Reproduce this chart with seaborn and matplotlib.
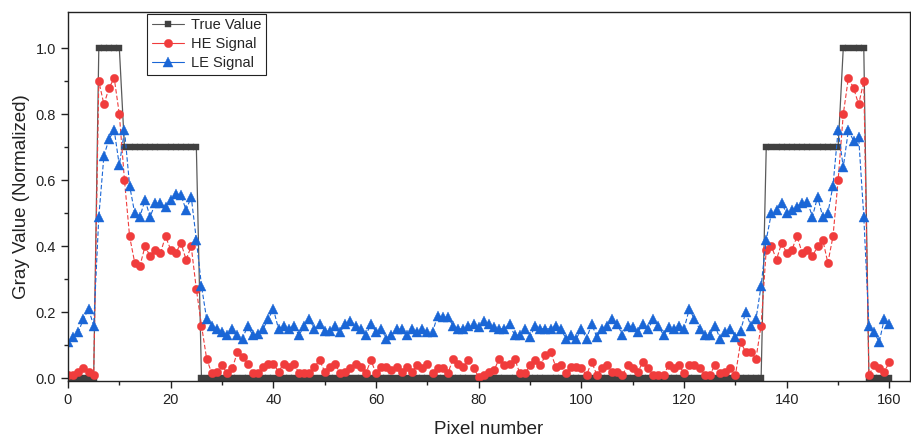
import numpy as np
import matplotlib
matplotlib.use("Agg")
import matplotlib.pyplot as plt
import seaborn as sns
import pandas as pd

# pixel index along the profile
pixel = list(range(0, 161))

# true value profile: levels and how many pixels each level lasts
true_levels = [0.0, 1.0, 0.7, 0.0, 0.7, 1.0, 0.0]
true_counts = [6, 5, 15, 110, 15, 5, 5]

he_signal = [
    0.01, 0.01, 0.02, 0.03, 0.02, 0.01, 0.90, 0.83, 0.88, 0.91,
    0.80, 0.60, 0.43, 0.35, 0.34, 0.40, 0.37, 0.39, 0.38, 0.43,
    0.39, 0.38, 0.41, 0.36, 0.40, 0.27, 0.16, 0.06, 0.015, 0.02,
    0.04, 0.015, 0.03, 0.08, 0.065, 0.045, 0.015, 0.015, 0.035, 0.045,
    0.045, 0.02, 0.045, 0.035, 0.045, 0.015, 0.015, 0.015, 0.035, 0.055,
    0.02, 0.035, 0.045, 0.015, 0.02, 0.03, 0.045, 0.035, 0.015, 0.055,
    0.015, 0.035, 0.035, 0.025, 0.035, 0.02, 0.035, 0.02, 0.04, 0.03,
    0.045, 0.015, 0.03, 0.03, 0.015, 0.06, 0.045, 0.035, 0.055, 0.03,
    0.005, 0.01, 0.02, 0.025, 0.06, 0.04, 0.045, 0.06, 0.015, 0.015,
    0.04, 0.055, 0.04, 0.07, 0.08, 0.035, 0.04, 0.015, 0.035, 0.035,
    0.03, 0.01, 0.05, 0.01, 0.03, 0.04, 0.02, 0.02, 0.01, 0.04,
    0.03, 0.02, 0.05, 0.03, 0.01, 0.01, 0.01, 0.04, 0.03, 0.04,
    0.015, 0.04, 0.04, 0.03, 0.01, 0.01, 0.04, 0.015, 0.02, 0.03,
    0.01, 0.11, 0.08, 0.08, 0.06, 0.16, 0.39, 0.40, 0.36, 0.41,
    0.38, 0.39, 0.43, 0.38, 0.39, 0.37, 0.40, 0.42, 0.35, 0.43,
    0.60, 0.80, 0.91, 0.88, 0.83, 0.90, 0.01, 0.04, 0.03, 0.02,
    0.05,
]

le_signal = [
    0.11, 0.125, 0.14, 0.18, 0.21, 0.16, 0.49, 0.675, 0.725, 0.752,
    0.645, 0.752, 0.584, 0.50, 0.49, 0.54, 0.49, 0.53, 0.53, 0.52,
    0.54, 0.56, 0.555, 0.51, 0.55, 0.42, 0.28, 0.18, 0.16, 0.15,
    0.14, 0.13, 0.15, 0.13, 0.12, 0.16, 0.13, 0.135, 0.15, 0.18,
    0.21, 0.15, 0.16, 0.15, 0.16, 0.13, 0.16, 0.18, 0.15, 0.165,
    0.145, 0.145, 0.16, 0.14, 0.165, 0.175, 0.16, 0.15, 0.13, 0.165,
    0.14, 0.15, 0.12, 0.13, 0.15, 0.15, 0.13, 0.15, 0.14, 0.15,
    0.14, 0.14, 0.19, 0.185, 0.185, 0.16, 0.15, 0.15, 0.16, 0.165,
    0.155, 0.175, 0.165, 0.155, 0.15, 0.15, 0.165, 0.13, 0.13, 0.15,
    0.125, 0.16, 0.15, 0.15, 0.15, 0.16, 0.15, 0.12, 0.13, 0.12,
    0.15, 0.12, 0.165, 0.125, 0.15, 0.16, 0.18, 0.165, 0.13, 0.16,
    0.155, 0.14, 0.165, 0.15, 0.18, 0.16, 0.13, 0.155, 0.15, 0.16,
    0.15, 0.21, 0.18, 0.15, 0.13, 0.13, 0.16, 0.12, 0.14, 0.15,
    0.125, 0.145, 0.20, 0.16, 0.18, 0.28, 0.42, 0.50, 0.51, 0.53,
    0.50, 0.51, 0.52, 0.53, 0.535, 0.49, 0.55, 0.49, 0.50, 0.584,
    0.752, 0.64, 0.752, 0.72, 0.73, 0.49, 0.16, 0.14, 0.11, 0.18,
    0.165,
]

df = pd.DataFrame({
    "pixel": pixel,
    "true": np.repeat(true_levels, true_counts),
    "he": he_signal,
    "le": le_signal,
})

sns.set_theme(style="ticks")
plt.rcParams["font.family"] = ["Liberation Sans", "DejaVu Sans"]

fig = plt.figure(figsize=(9.12, 4.41), dpi=100)
ax = fig.add_axes([68 / 912, 1 - 381 / 441, 842 / 912, 369 / 441])

sns.lineplot(data=df, x="pixel", y="true", ax=ax, color="#5a5a5a", linewidth=0.9,
             marker="s", markersize=5, markerfacecolor="#404040",
             markeredgecolor="#404040", markeredgewidth=0.3, label="True Value")
sns.lineplot(data=df, x="pixel", y="he", ax=ax, color="#f03c3c", linewidth=0.8,
             linestyle=(0, (4, 2)), marker="o", markersize=6,
             markeredgecolor="#f03c3c", markeredgewidth=0.3, label="HE Signal")
sns.lineplot(data=df, x="pixel", y="le", ax=ax, color="#1a66d6", linewidth=0.8,
             linestyle=(0, (4, 2)), marker="^", markersize=6.5,
             markeredgecolor="#1a66d6", markeredgewidth=0.3, label="LE Signal")

ax.set_xlim(0, 164)
ax.set_ylim(-0.008, 1.11)
ax.set_xticks(range(0, 161, 20))
ax.set_xticks(range(10, 161, 20), minor=True)
ax.set_yticks([0.0, 0.2, 0.4, 0.6, 0.8, 1.0])
ax.set_yticks([0.1, 0.3, 0.5, 0.7, 0.9], minor=True)
ax.set_yticklabels(["0.0", "0.2", "0.4", "0.6", "0.8", "1.0"])
ax.tick_params(axis="both", which="major", direction="out", length=5, width=1,
               labelsize=10.5, colors="#222222", labelcolor="#222222")
ax.tick_params(axis="both", which="minor", direction="out", length=3, width=1,
               colors="#222222")
ax.tick_params(top=False, right=False, which="both")
for side in ["left", "bottom", "top", "right"]:
    ax.spines[side].set_visible(True)
    ax.spines[side].set_color("#222222")
    ax.spines[side].set_linewidth(1.0)

ax.set_xlabel("Pixel number", fontsize=13.5, labelpad=10, color="#222222")
ax.set_ylabel("Gray Value (Normalized)", fontsize=13.5, labelpad=4, color="#222222")

leg = ax.legend(loc="upper left", bbox_to_anchor=(0.094, 0.995), borderaxespad=0,
                fontsize=10.5, frameon=True, fancybox=False, framealpha=1,
                edgecolor="#222222", handlelength=2.2, handletextpad=0.5,
                labelspacing=0.35, borderpad=0.3)
leg.get_frame().set_linewidth(0.8)
for line in leg.get_lines():
    line.set_linestyle("-")
    line.set_linewidth(0.8)

fig.savefig("out.png", dpi=100)
